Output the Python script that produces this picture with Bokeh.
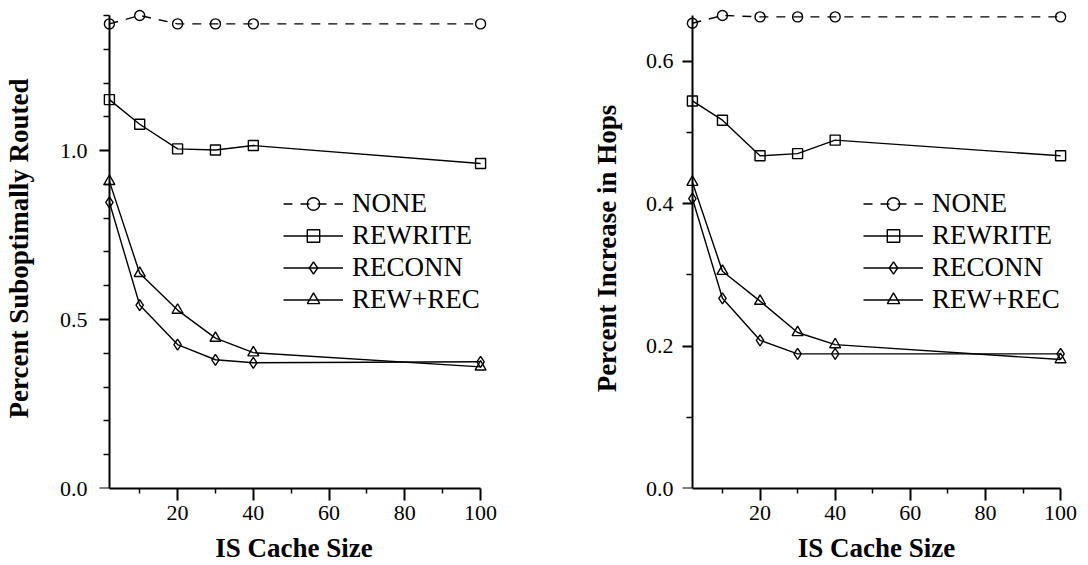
from bokeh.plotting import figure
from bokeh.models import (Range1d, LinearAxis, FixedTicker, PrintfTickFormatter,
                          Legend, LegendItem)
from bokeh.layouts import row
from bokeh.embed import file_html
from bokeh.resources import INLINE

# ---------------- data ----------------
cache_sizes = [2, 10, 20, 30, 40, 100]
series_names = ["NONE", "REWRITE", "RECONN", "REW+REC"]

# left chart: Percent Suboptimally Routed
subopt_none = [1.375, 1.400, 1.375, 1.375, 1.375, 1.375]
subopt_rewrite = [1.151, 1.078, 1.005, 1.002, 1.015, 0.962]
subopt_reconn = [0.847, 0.543, 0.426, 0.381, 0.372, 0.375]
subopt_rewrec = [0.909, 0.637, 0.528, 0.445, 0.402, 0.360]

# right chart: Percent Increase in Hops
hops_none = [0.653, 0.664, 0.662, 0.662, 0.662, 0.662]
hops_rewrite = [0.544, 0.517, 0.467, 0.470, 0.489, 0.467]
hops_reconn = [0.407, 0.267, 0.208, 0.189, 0.189, 0.189]
hops_rewrec = [0.430, 0.305, 0.263, 0.219, 0.202, 0.181]

x_major_ticks = [20, 40, 60, 80, 100]
x_minor_ticks = [10, 30, 50, 70, 90]
left_major_ticks = [0.0, 0.5, 1.0]
left_minor_ticks = [0.1, 0.2, 0.3, 0.4, 0.6, 0.7, 0.8, 0.9, 1.1, 1.2, 1.3, 1.4]
right_major_ticks = [0.0, 0.2, 0.4, 0.6]
right_minor_ticks = [0.1, 0.3, 0.5]

x_title = "IS Cache Size"
left_title = "Percent Suboptimally Routed"
right_title = "Percent Increase in Hops"

# ---------------- style ----------------
FONT = "Liberation Serif"
MARKERS = ["circle", "square", "diamond", "triangle"]
MSIZES = [10, 10, 11, 11]
DASHES = ["9 8", "solid", "solid", "solid"]
FIG_H = 565
FRAME_TOP = 8
FRAME_H = 483
AXIS_H = 476  # pixel length of y axis (0 .. max)


def make_chart(series, ytitle, y_major, y_minor, width, border_l, border_r,
               frame_w, axis_off_l, axis_len_x, label_standoff, title_standoff,
               legend_x):
    ymax = max(max(s) for s in series)
    y_hi = ymax * FRAME_H / AXIS_H
    xmin, xmax = cache_sizes[0], cache_sizes[-1]
    ppu = axis_len_x / (xmax - xmin)
    x_lo = xmin - axis_off_l / ppu
    x_hi = x_lo + frame_w / ppu

    p = figure(width=width, height=FIG_H,
               x_range=Range1d(x_lo, x_hi), y_range=Range1d(0, y_hi),
               output_backend="svg", toolbar_location=None,
               x_axis_location=None, y_axis_location=None,
               min_border_left=border_l, min_border_right=border_r,
               min_border_top=FRAME_TOP,
               min_border_bottom=FIG_H - FRAME_H - FRAME_TOP)
    p.outline_line_color = None
    p.grid.visible = False
    p.background_fill_color = "white"

    # tick labels for the y axis (in the left panel)
    laxis = LinearAxis(bounds=(0, ymax),
                       ticker=FixedTicker(ticks=y_major, minor_ticks=[]),
                       formatter=PrintfTickFormatter(format="%.1f"))
    laxis.axis_line_color = None
    laxis.major_tick_line_color = None
    laxis.minor_tick_line_color = None
    laxis.major_tick_out = 0
    laxis.major_tick_in = 0
    laxis.minor_tick_out = 0
    laxis.minor_tick_in = 0
    laxis.major_label_standoff = label_standoff
    laxis.major_label_text_font = FONT
    laxis.major_label_text_font_size = "22px"
    laxis.major_label_text_color = "black"
    p.add_layout(laxis, "left")

    # y title
    taxis = LinearAxis(ticker=FixedTicker(ticks=[]), bounds=(0, ymax),
                       axis_label=ytitle)
    taxis.axis_line_color = None
    taxis.major_tick_line_color = None
    taxis.minor_tick_line_color = None
    taxis.major_tick_out = 0
    taxis.minor_tick_out = 0
    taxis.axis_label_standoff = title_standoff
    taxis.axis_label_text_font = FONT
    taxis.axis_label_text_font_style = "bold"
    taxis.axis_label_text_font_size = "27px"
    taxis.axis_label_text_color = "black"
    p.add_layout(taxis, "left")

    # y axis line and ticks drawn at x = first cache size
    yaxis = LinearAxis(fixed_location=xmin, bounds=(0, ymax),
                       ticker=FixedTicker(ticks=y_major, minor_ticks=y_minor),
                       formatter=PrintfTickFormatter(format="%.1f"))
    yaxis.axis_line_width = 2
    yaxis.axis_line_color = "black"
    yaxis.major_tick_line_width = 2
    yaxis.major_tick_line_color = "black"
    yaxis.minor_tick_line_width = 1.5
    yaxis.minor_tick_line_color = "black"
    yaxis.major_tick_out = 12
    yaxis.major_tick_in = 0
    yaxis.minor_tick_out = 6
    yaxis.minor_tick_in = 0
    yaxis.major_label_text_font = FONT
    yaxis.major_label_text_font_size = "22px"
    yaxis.major_label_text_alpha = 0
    p.add_layout(yaxis, "left")

    # x axis
    xaxis = LinearAxis(bounds=(xmin, xmax),
                       ticker=FixedTicker(ticks=x_major_ticks, minor_ticks=x_minor_ticks),
                       axis_label=x_title)
    xaxis.axis_line_width = 2
    xaxis.axis_line_color = "black"
    xaxis.major_tick_line_width = 2
    xaxis.major_tick_line_color = "black"
    xaxis.minor_tick_line_width = 1.5
    xaxis.minor_tick_line_color = "black"
    xaxis.major_tick_out = 12
    xaxis.major_tick_in = 0
    xaxis.minor_tick_out = 5
    xaxis.minor_tick_in = 0
    xaxis.major_label_standoff = 5
    xaxis.major_label_text_font = FONT
    xaxis.major_label_text_font_size = "22px"
    xaxis.major_label_text_color = "black"
    xaxis.axis_label_standoff = 10
    xaxis.axis_label_text_font = FONT
    xaxis.axis_label_text_font_style = "bold"
    xaxis.axis_label_text_font_size = "27px"
    xaxis.axis_label_text_color = "black"
    p.add_layout(xaxis, "below")

    items = []
    for name, vals, mk, ms, dash in zip(series_names, series, MARKERS, MSIZES, DASHES):
        lr = p.line(cache_sizes, vals, line_color="black", line_width=1.4, line_dash=dash)
        sr = p.scatter(cache_sizes, vals, marker=mk, size=ms, fill_color=None,
                       line_color="black", line_width=1.4)
        items.append(LegendItem(label=name, renderers=[lr, sr]))

    legend = Legend(items=items, location=(legend_x, 173))
    legend.background_fill_alpha = 0
    legend.border_line_color = None
    legend.padding = 0
    legend.margin = 0
    legend.spacing = 1
    legend.glyph_width = 60
    legend.glyph_height = 31
    legend.label_height = 31
    legend.label_standoff = 9
    legend.label_text_font = FONT
    legend.label_text_font_size = "27px"
    legend.label_text_color = "black"
    legend.label_text_baseline = "middle"
    p.add_layout(legend)
    return p


left = make_chart([subopt_none, subopt_rewrite, subopt_reconn, subopt_rewrec],
                  left_title, left_major_ticks, left_minor_ticks,
                  width=588, border_l=95, border_r=100, frame_w=393,
                  axis_off_l=10, axis_len_x=375, label_standoff=12,
                  title_standoff=23, legend_x=184)
right = make_chart([hops_none, hops_rewrite, hops_reconn, hops_rewrec],
                   right_title, right_major_ticks, right_minor_ticks,
                   width=500, border_l=90, border_r=18, frame_w=392,
                   axis_off_l=10, axis_len_x=372, label_standoff=9,
                   title_standoff=21, legend_x=181)

layout = row(left, right)
open("out.html", "w").write(file_html(layout, INLINE))
